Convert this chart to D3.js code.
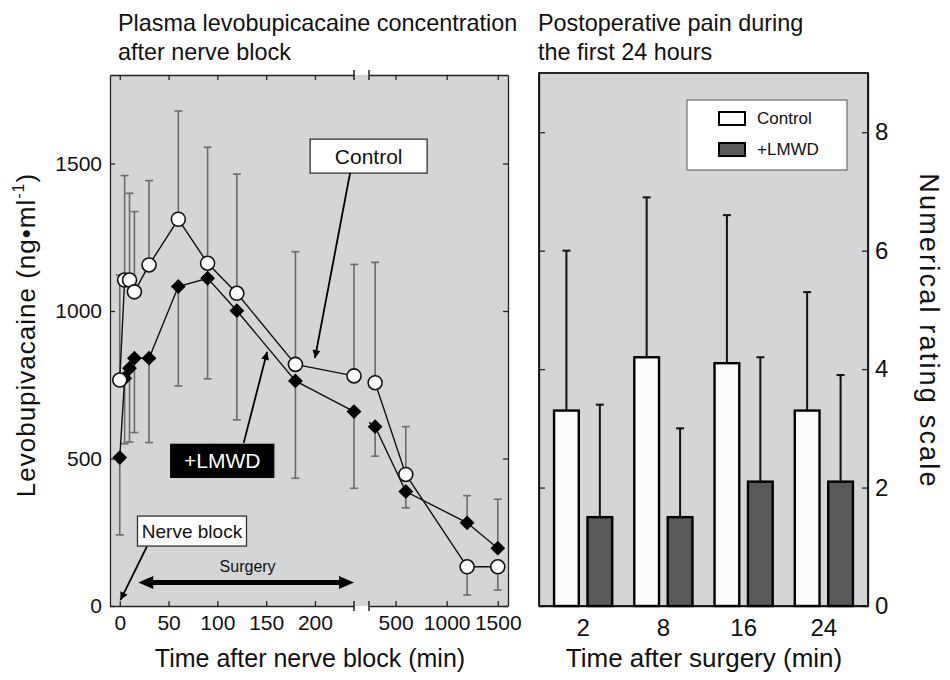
<!DOCTYPE html>
<html>
<head>
<meta charset="utf-8">
<script src="https://cdn.jsdelivr.net/npm/d3@7"></script>
<style>
body { margin: 0; background: #fff; }
text { font-family: "Liberation Sans", Arial, Helvetica, sans-serif; fill: #111; }
</style>
</head>
<body>
<div id="chart"></div>
<script>
// left panel: plasma concentration (ng/ml) vs time after nerve block (min)
var times = [0, 5, 10, 15, 30, 60, 90, 120, 180, 240, 300, 600, 1200, 1500];
var controlConc = [766, 1105, 1105, 1065, 1156, 1311, 1162, 1060, 819, 780, 757, 446, 133, 133];
var controlSD = [356, 354, 294, 272, 286, 367, 393, 404, 382, 378, 408, 162, 96, 79];
var lmwdConc = [503, 772, 806, 840, 840, 1083, 1111, 1001, 763, 659, 608, 388, 282, 196];
var lmwdSD = [262, 222, 250, 252, 286, 337, 341, 370, 330, 260, 100, 55, 92, 166];
var concTicks = [0, 500, 1000, 1500];
var timeTicksEarly = [0, 50, 100, 150, 200];
var timeTicksLate = [500, 1000, 1500];

// right panel: numerical rating scale vs hours after surgery
var hours = ['2', '8', '16', '24'];
var controlNRS = [3.3, 4.2, 4.1, 3.3];
var controlNRSsd = [2.7, 2.7, 2.5, 2.0];
var lmwdNRS = [1.5, 1.5, 2.1, 2.1];
var lmwdNRSsd = [1.9, 1.5, 2.1, 1.8];
var nrsTicks = [0, 2, 4, 6, 8];

var W = 950, H = 680;
var bg = '#d4d5d7';
var font = '"Liberation Sans", Arial, Helvetica, sans-serif';
var fmt = d3.format('d');

var svg = d3.select('#chart').append('svg').attr('width', W).attr('height', H);
var defs = svg.append('defs');
defs.append('marker')
	.attr('id', 'arr').attr('viewBox', '0 0 10 10')
	.attr('refX', 10).attr('refY', 5)
	.attr('markerWidth', 12).attr('markerHeight', 8)
	.attr('markerUnits', 'userSpaceOnUse').attr('orient', 'auto')
	.append('path').attr('d', 'M0,0L10,5L0,10z').attr('fill', '#000');

/* ---------- left panel ---------- */
var L = {left: 110, right: 508, top: 75, bottom: 606, breakA: 354, breakB: 369};
var y = d3.scaleLinear().domain([0, 1800]).range([L.bottom, L.top]);
var xa = d3.scaleLinear().domain([-10, 240]).range([L.left, L.breakA]);
var xb = d3.scaleLinear().domain([240, 1600]).range([L.breakB, L.right]);
function xt(t) { return t <= 240 ? xa(t) : xb(t); }

svg.append('rect')
	.attr('x', L.left).attr('y', L.top)
	.attr('width', L.right - L.left).attr('height', L.bottom - L.top)
	.attr('fill', bg);

function styleAxis(g, size) {
	g.attr('font-family', font).attr('font-size', size);
	g.selectAll('path, line').attr('stroke', '#222').attr('stroke-width', 1.3);
	g.selectAll('text').attr('fill', '#111');
}

svg.append('g').attr('transform', 'translate(0,' + L.bottom + ')')
	.call(d3.axisBottom(xa).tickValues(timeTicksEarly).tickFormat(fmt).tickSize(-5).tickSizeOuter(0).tickPadding(9))
	.call(styleAxis, 21);
svg.append('g').attr('transform', 'translate(0,' + L.bottom + ')')
	.call(d3.axisBottom(xb).tickValues(timeTicksLate).tickFormat(fmt).tickSize(-5).tickSizeOuter(0).tickPadding(9))
	.call(styleAxis, 21);
svg.append('g').attr('transform', 'translate(0,' + L.top + ')')
	.call(d3.axisTop(xa).tickValues(timeTicksEarly).tickSize(-5).tickSizeOuter(0).tickFormat(''))
	.call(styleAxis, 21);
svg.append('g').attr('transform', 'translate(0,' + L.top + ')')
	.call(d3.axisTop(xb).tickValues(timeTicksLate).tickSize(-5).tickSizeOuter(0).tickFormat(''))
	.call(styleAxis, 21);
svg.append('g').attr('transform', 'translate(' + L.left + ',0)')
	.call(d3.axisLeft(y).tickValues(concTicks).tickFormat(fmt).tickSize(-5).tickSizeOuter(0).tickPadding(8))
	.call(styleAxis, 21);
svg.append('g').attr('transform', 'translate(' + L.right + ',0)')
	.call(d3.axisRight(y).tickValues(concTicks).tickSize(-5).tickSizeOuter(0).tickFormat(''))
	.call(styleAxis, 21);

// axis break marks
[xa(240), xb(240)].forEach(function(bx) {
	[L.top, L.bottom].forEach(function(by) {
		svg.append('line')
			.attr('x1', bx).attr('x2', bx).attr('y1', by - 5).attr('y2', by + 5)
			.attr('stroke', '#222').attr('stroke-width', 1.5);
	});
});

var rows = times.map(function(t, i) {
	return {t: t, c: controlConc[i], cs: controlSD[i], l: lmwdConc[i], ls: lmwdSD[i]};
});

// error bars: higher series gets the upper bar, lower series the lower bar
var bars = [];
rows.forEach(function(d) {
	var dir = d.c >= d.l ? 1 : -1;
	bars.push({t: d.t, from: d.c, to: d.c + dir * d.cs});
	bars.push({t: d.t, from: d.l, to: d.l - dir * d.ls});
});
var eb = svg.append('g').attr('stroke', '#6b6b6b').attr('stroke-width', 1.6);
eb.selectAll('line.v').data(bars).enter().append('line')
	.attr('x1', function(d) { return xt(d.t); }).attr('x2', function(d) { return xt(d.t); })
	.attr('y1', function(d) { return y(d.from); }).attr('y2', function(d) { return y(d.to); });
eb.selectAll('line.cap').data(bars).enter().append('line')
	.attr('x1', function(d) { return xt(d.t) - 4; }).attr('x2', function(d) { return xt(d.t) + 4; })
	.attr('y1', function(d) { return y(d.to); }).attr('y2', function(d) { return y(d.to); });

// connecting lines, hidden inside the axis break
defs.append('clipPath').attr('id', 'clipA').append('rect')
	.attr('x', L.left).attr('y', 0).attr('width', L.breakA - L.left).attr('height', H);
defs.append('clipPath').attr('id', 'clipB').append('rect')
	.attr('x', L.breakB).attr('y', 0).attr('width', L.right - L.breakB + 10).attr('height', H);

function drawLine(key) {
	var line = d3.line().x(function(d) { return xt(d.t); }).y(function(d) { return y(d[key]); });
	['clipA', 'clipB'].forEach(function(c) {
		svg.append('path').datum(rows)
			.attr('clip-path', 'url(#' + c + ')')
			.attr('fill', 'none').attr('stroke', '#111').attr('stroke-width', 1.4)
			.attr('d', line);
	});
}
drawLine('l');
drawLine('c');

svg.append('g').selectAll('path').data(rows).enter().append('path')
	.attr('d', d3.symbol(d3.symbolSquare).size(110))
	.attr('transform', function(d) { return 'translate(' + xt(d.t) + ',' + y(d.l) + ') rotate(45)'; })
	.attr('fill', '#000');
svg.append('g').selectAll('circle').data(rows).enter().append('circle')
	.attr('cx', function(d) { return xt(d.t); }).attr('cy', function(d) { return y(d.c); })
	.attr('r', 7).attr('fill', '#fff').attr('stroke', '#111').attr('stroke-width', 1.6);

// annotations
function noteBox(cx, cy, w, h, label, size, dark) {
	svg.append('rect')
		.attr('x', cx - w / 2).attr('y', cy - h / 2).attr('width', w).attr('height', h)
		.attr('fill', dark ? '#000' : '#fff').attr('stroke', dark ? '#000' : '#333').attr('stroke-width', 1.3);
	svg.append('text')
		.attr('x', cx).attr('y', cy).attr('dy', '0.36em')
		.attr('text-anchor', 'middle').attr('font-size', size)
		.style('fill', dark ? '#fff' : '#111')
		.text(label);
}
function arrow(x1, y1, x2, y2) {
	svg.append('line')
		.attr('x1', x1).attr('y1', y1).attr('x2', x2).attr('y2', y2)
		.attr('stroke', '#000').attr('stroke-width', 1.8)
		.attr('marker-end', 'url(#arr)');
}
noteBox(xa(255), y(1525), 117, 34, 'Control', 21, false);
arrow(xa(236), y(1468), xa(200), y(840));
arrow(xa(127), y(553), xa(151), y(862));
noteBox(xa(105), y(492), 103, 33, '+LMWD', 21, true);
arrow(xa(28), y(203), xa(0.7), y(20));
noteBox(xa(74), y(254), 109, 30, 'Nerve block', 19, false);

// surgery double arrow
var sx1 = xa(19), sx2 = xa(240), sy = y(80), head = 15, hw = 6.5;
svg.append('line')
	.attr('x1', sx1 + head - 2).attr('x2', sx2 - head + 2).attr('y1', sy).attr('y2', sy)
	.attr('stroke', '#000').attr('stroke-width', 5);
svg.append('path')
	.attr('d', 'M' + sx1 + ',' + sy + 'L' + (sx1 + head) + ',' + (sy - hw) + 'L' + (sx1 + head) + ',' + (sy + hw) + 'Z' +
		'M' + sx2 + ',' + sy + 'L' + (sx2 - head) + ',' + (sy - hw) + 'L' + (sx2 - head) + ',' + (sy + hw) + 'Z')
	.attr('fill', '#000');
svg.append('text')
	.attr('x', xa(131)).attr('y', y(115))
	.attr('text-anchor', 'middle').attr('font-size', 16)
	.text('Surgery');

// titles and labels
svg.append('text').attr('x', 118).attr('y', 31).attr('font-size', 23.4).text('Plasma levobupicacaine concentration');
svg.append('text').attr('x', 118).attr('y', 60).attr('font-size', 23.4).text('after nerve block');
svg.append('text')
	.attr('transform', 'translate(' + 35 + ',' + 335 + ') rotate(-90)')
	.attr('text-anchor', 'middle').attr('font-size', 26).attr('letter-spacing', 1)
	.call(function(t) {
		t.append('tspan').text('Levobupivacaine (ng\u2022ml');
		t.append('tspan').attr('font-size', 16).attr('dy', -11).text('-1');
		t.append('tspan').attr('dy', 11).text(')');
	});
svg.append('text').attr('x', 310).attr('y', 667).attr('text-anchor', 'middle').attr('font-size', 25)
	.text('Time after nerve block (min)');

/* ---------- right panel ---------- */
var R = {left: 539, right: 868, top: 73, bottom: 606};
var yr = d3.scaleLinear().domain([0, 9]).range([R.bottom, R.top]);
var x0 = d3.scaleBand().domain(hours).range([R.left, R.right]).paddingInner(0.275).paddingOuter(0.1875);
var x1 = d3.scaleBand().domain(['control', 'lmwd']).range([0, x0.bandwidth()]).paddingInner(0.26);

svg.append('rect')
	.attr('x', R.left).attr('y', R.top)
	.attr('width', R.right - R.left).attr('height', R.bottom - R.top)
	.attr('fill', bg);

svg.append('g').attr('transform', 'translate(' + R.right + ',0)')
	.call(d3.axisRight(yr).tickValues(nrsTicks).tickSize(-6).tickSizeOuter(0).tickPadding(7))
	.call(styleAxis, 24);
svg.append('g').attr('transform', 'translate(' + R.left + ',0)')
	.call(d3.axisLeft(yr).tickValues(nrsTicks).tickSize(-6).tickSizeOuter(0).tickFormat(''))
	.call(styleAxis, 24);
svg.append('g').attr('transform', 'translate(0,' + R.bottom + ')')
	.call(d3.axisBottom(x0).tickSize(0).tickSizeOuter(0).tickPadding(13))
	.call(styleAxis, 24);
svg.append('rect')
	.attr('x', R.left).attr('y', R.top)
	.attr('width', R.right - R.left).attr('height', R.bottom - R.top)
	.attr('fill', 'none').attr('stroke', '#111').attr('stroke-width', 1.8);

var groups = hours.map(function(h, i) {
	return [
		{h: h, key: 'control', v: controlNRS[i], sd: controlNRSsd[i]},
		{h: h, key: 'lmwd', v: lmwdNRS[i], sd: lmwdNRSsd[i]}
	];
});
var flat = d3.merge(groups);
var fills = {control: '#fcfcfc', lmwd: '#58595b'};

var eg = svg.append('g').attr('stroke', '#111').attr('stroke-width', 2);
flat.forEach(function(d) {
	var cx = x0(d.h) + x1(d.key) + x1.bandwidth() / 2;
	eg.append('line').attr('x1', cx).attr('x2', cx).attr('y1', yr(d.v)).attr('y2', yr(d.v + d.sd));
	eg.append('line').attr('x1', cx - 4).attr('x2', cx + 4).attr('y1', yr(d.v + d.sd)).attr('y2', yr(d.v + d.sd));
});
svg.append('g').selectAll('rect').data(flat).enter().append('rect')
	.attr('x', function(d) { return x0(d.h) + x1(d.key); })
	.attr('y', function(d) { return yr(d.v); })
	.attr('width', x1.bandwidth())
	.attr('height', function(d) { return yr(0) - yr(d.v); })
	.attr('fill', function(d) { return fills[d.key]; })
	.attr('stroke', '#000').attr('stroke-width', 2.4);

// legend
var lg = svg.append('g').attr('transform', 'translate(687,100)');
lg.append('rect').attr('width', 160).attr('height', 70).attr('fill', '#fff').attr('stroke', '#555').attr('stroke-width', 1);
[['control', 'Control'], ['lmwd', '+LMWD']].forEach(function(e, i) {
	lg.append('rect').attr('x', 32).attr('y', 12 + i * 31).attr('width', 26).attr('height', 13)
		.attr('fill', fills[e[0]]).attr('stroke', '#000').attr('stroke-width', 2);
	lg.append('text').attr('x', 70).attr('y', 24 + i * 31).attr('font-size', 17).text(e[1]);
});

svg.append('text').attr('x', 538).attr('y', 31).attr('font-size', 23.4).text('Postoperative pain during');
svg.append('text').attr('x', 538).attr('y', 60).attr('font-size', 23.4).text('the first 24 hours');
svg.append('text')
	.attr('transform', 'translate(' + 920 + ',' + 331 + ') rotate(90)')
	.attr('text-anchor', 'middle').attr('font-size', 27).attr('letter-spacing', 2.2)
	.text('Numerical rating scale');
svg.append('text').attr('x', 704).attr('y', 667).attr('text-anchor', 'middle').attr('font-size', 26)
	.text('Time after surgery (min)');
</script>
</body>
</html>
